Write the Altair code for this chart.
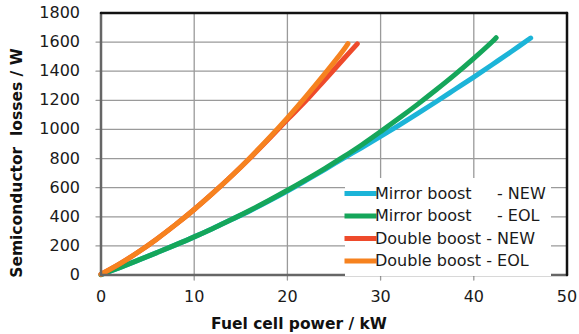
import altair as alt
import pandas as pd

# Semiconductor losses vs fuel cell power for two boost topologies
series_names = [
    "Mirror boost\u00a0\u00a0\u00a0\u00a0\u00a0- NEW",
    "Mirror boost\u00a0\u00a0\u00a0\u00a0\u00a0- EOL",
    "Double boost - NEW",
    "Double boost - EOL",
]
series_colors = ["#1cb4d8", "#15a65a", "#ee4a2b", "#f6821f"]

mirror_new_kw = [0, 2, 4, 6, 8, 10, 12, 14, 16, 18, 20, 22, 24, 26, 28, 30, 32, 34, 36, 38, 40, 42, 44, 46.1]
mirror_new_w = [2, 51, 102, 154, 207, 262, 320, 381, 442, 508, 577, 650, 725, 801, 876, 952, 1030, 1110, 1192, 1276, 1360, 1446, 1534, 1628]

mirror_eol_kw = [0, 2, 4, 6, 8, 10, 12, 14, 16, 18, 20, 22, 24, 26, 28, 30, 32, 34, 36, 38, 40, 42, 42.4]
mirror_eol_w = [2, 51, 102, 154, 207, 262, 320, 381, 445, 512, 582, 655, 731, 811, 895, 985, 1078, 1174, 1274, 1378, 1488, 1604, 1630]

double_new_kw = [0, 2, 4, 6, 8, 10, 12, 14, 16, 18, 20, 22, 24, 26, 27.5]
double_new_w = [5, 76, 158, 248, 346, 450, 562, 680, 804, 934, 1068, 1198, 1340, 1482, 1588]

double_eol_kw = [0, 2, 4, 6, 8, 10, 12, 14, 16, 18, 20, 22, 24, 26, 26.5]
double_eol_w = [5, 76, 158, 248, 346, 450, 562, 680, 806, 940, 1080, 1228, 1382, 1544, 1590]

x_ticks = [0, 10, 20, 30, 40, 50]
y_ticks = [0, 200, 400, 600, 800, 1000, 1200, 1400, 1600, 1800]
x_title = "Fuel cell power / kW"
y_title = "Semiconductor\u00a0\u00a0losses / W"

PLOT_W, PLOT_H, TICK_PX = 466, 262, 5
x_min, x_max = x_ticks[0], x_ticks[-1]
y_min, y_max = y_ticks[0], y_ticks[-1]
x_tick_len = TICK_PX * (x_max - x_min) / PLOT_W   # outward tick length in kW
y_tick_len = TICK_PX * (y_max - y_min) / PLOT_H   # outward tick length in W

# one table of polylines: gridlines first, then the curves, then axis lines and frame
rows = []


def add_path(points, key, cname, width):
    for px, py in points:
        rows.append({"power": px, "loss": py, "gid": key, "cname": cname, "sw": width})


for v in y_ticks[1:-1]:
    add_path([(x_min - x_tick_len, v), (x_max, v)], f"h{v}", "grid", 1.3)
for v in x_ticks[1:-1]:
    add_path([(v, y_min - y_tick_len), (v, y_max)], f"v{v}", "grid", 1.3)

for name, xs, ys in zip(
    series_names,
    [mirror_new_kw, mirror_eol_kw, double_new_kw, double_eol_kw],
    [mirror_new_w, mirror_eol_w, double_new_w, double_eol_w],
):
    add_path(list(zip(xs, ys)), name, name, 5)

add_path([(x_min, y_min), (x_min, y_max)], "left", "axis", 2.5)
add_path([(x_min, y_min), (x_max, y_min)], "bottom", "axis", 2.5)
add_path([(x_min, y_max), (x_max, y_max)], "top", "frame", 2.5)
add_path([(x_max, y_min), (x_max, y_max)], "right", "frame", 2.5)

df = pd.DataFrame(rows)

x_scale = alt.Scale(domain=[x_min, x_max], nice=False, zero=False)
y_scale = alt.Scale(domain=[y_min, y_max], nice=False)

color_domain = series_names + ["grid", "axis", "frame"]
color_range = series_colors + ["#9a9a9a", "#666666", "#111111"]

lines = alt.Chart(df).mark_line(strokeCap="round", interpolate="catmull-rom").encode(
    x=alt.X("power:Q", scale=x_scale, axis=None),
    y=alt.Y("loss:Q", scale=y_scale, axis=None),
    color=alt.Color(
        "cname:N",
        scale=alt.Scale(domain=color_domain, range=color_range),
        legend=alt.Legend(
            values=series_names,
            title=None,
            orient="none",
            legendX=244,
            legendY=165,
            fillColor="white",
            padding=5,
            symbolType="M-2,0H2",
            symbolSize=256,
            symbolStrokeWidth=5,
            labelOffset=4,
            rowPadding=1.5,
            labelFont="DejaVu Sans",
            labelFontSize=16,
            labelColor="#1a1a1a",
            labelLimit=300,
        ),
    ),
    strokeWidth=alt.StrokeWidth("sw:Q", scale=None),
    detail="gid:N",
)

# tick labels
y_labels = alt.Chart(
    pd.DataFrame({"loss": y_ticks, "power": [x_min] * len(y_ticks), "lab": [str(v) for v in y_ticks]})
).mark_text(
    align="right", baseline="middle", dx=-21, font="DejaVu Sans", fontSize=16, color="#1a1a1a"
).encode(
    x=alt.X("power:Q", scale=x_scale, axis=None),
    y=alt.Y("loss:Q", scale=y_scale, axis=None),
    text="lab:N",
)
x_labels = alt.Chart(
    pd.DataFrame({"power": x_ticks, "loss": [y_min] * len(x_ticks), "lab": [str(v) for v in x_ticks]})
).mark_text(
    align="center", baseline="top", dy=14, font="DejaVu Sans", fontSize=16, color="#1a1a1a"
).encode(
    x=alt.X("power:Q", scale=x_scale, axis=None),
    y=alt.Y("loss:Q", scale=y_scale, axis=None),
    text="lab:N",
)

# axis titles
x_title_mark = alt.Chart(pd.DataFrame({"t": [x_title]})).mark_text(
    align="center", baseline="middle", font="DejaVu Sans", fontSize=15.5, fontWeight="bold", color="#111111"
).encode(text="t:N", x=alt.value(198), y=alt.value(PLOT_H + 49))
y_title_mark = alt.Chart(pd.DataFrame({"t": [y_title]})).mark_text(
    align="center", baseline="middle", angle=270, font="DejaVu Sans", fontSize=15.5, fontWeight="bold", color="#111111"
).encode(text="t:N", x=alt.value(-84), y=alt.value(150))

chart = (
    alt.layer(lines, y_labels, x_labels, x_title_mark, y_title_mark)
    .properties(
        width=PLOT_W,
        height=PLOT_H,
        padding={"left": 101, "top": 13, "right": 12, "bottom": 59},
        autosize=alt.AutoSizeParams(type="none"),
        background="white",
    )
    .configure_view(stroke=None)
)

chart.save("out.html", embed_options={"renderer": "svg", "actions": False})
